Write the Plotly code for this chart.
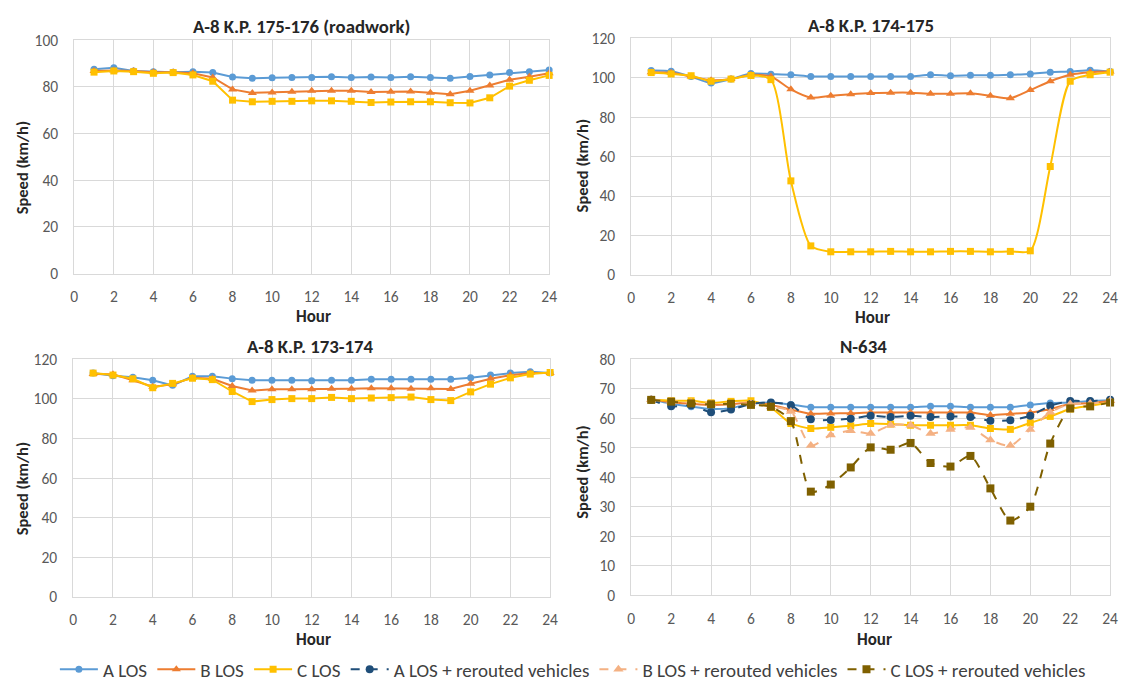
import plotly.graph_objects as go

W, H = 1128, 693

hours = list(range(1, 25))

# Panel 1: A-8 K.P. 175-176 (roadwork)
p1_a = [87.5, 88.2, 86.8, 86.5, 86.3, 86.5, 86.1, 84.2, 83.7, 83.9, 84.0, 84.0, 84.3, 84.0, 84.2, 84.0, 84.3, 84.0, 83.7, 84.4, 85.1, 86.1, 86.5, 87.2]
p1_b = [86.8, 87.0, 86.8, 86.3, 86.3, 85.8, 84.0, 78.9, 77.4, 77.6, 77.9, 78.3, 78.3, 78.3, 77.8, 77.9, 78.0, 77.5, 76.8, 78.3, 80.6, 83.0, 84.3, 85.8]
p1_c = [86.3, 86.8, 86.5, 85.8, 86.1, 85.1, 82.4, 74.3, 73.6, 73.8, 73.8, 74.0, 74.0, 73.8, 73.3, 73.5, 73.6, 73.6, 73.2, 73.1, 75.3, 80.3, 82.8, 84.9]

# Panel 2: A-8 K.P. 174-175
p2_a = [103.7, 103.4, 100.7, 97.4, 99.4, 102.2, 101.9, 101.6, 100.7, 100.7, 100.7, 100.7, 100.7, 100.7, 101.6, 101.1, 101.3, 101.3, 101.6, 102.0, 102.9, 103.2, 103.9, 103.2]
p2_b = [102.9, 102.6, 100.7, 98.8, 99.4, 101.6, 100.7, 94.2, 90.0, 90.9, 91.7, 92.3, 92.5, 92.5, 92.0, 92.0, 92.2, 90.9, 89.7, 93.8, 98.3, 101.6, 102.9, 103.2]
p2_c = [102.7, 102.0, 101.1, 98.3, 99.4, 101.2, 99.1, 47.7, 14.7, 11.7, 11.7, 11.7, 11.9, 11.7, 11.7, 11.9, 11.9, 11.7, 11.9, 12.2, 55.0, 98.3, 101.6, 102.9]

# Panel 3: A-8 K.P. 173-174
p3_a = [113.1, 111.8, 111.0, 109.5, 106.9, 111.5, 111.5, 110.3, 109.5, 109.5, 109.5, 109.2, 109.5, 109.5, 110.0, 110.0, 110.0, 110.0, 110.0, 110.8, 112.1, 113.1, 113.8, 113.1]
p3_b = [112.6, 112.5, 109.5, 106.2, 107.4, 110.8, 110.2, 106.6, 104.3, 104.9, 104.9, 104.9, 105.2, 105.2, 105.4, 105.4, 105.2, 105.4, 105.1, 107.7, 110.2, 112.0, 113.1, 113.1]
p3_c = [113.1, 112.1, 110.2, 105.7, 107.9, 110.5, 109.8, 103.8, 98.7, 99.7, 100.2, 100.2, 100.8, 100.2, 100.5, 100.7, 101.0, 99.7, 99.2, 103.6, 107.5, 110.7, 112.6, 113.4]

# Panel 4: N-634
p4_a = [66.5, 65.0, 64.0, 63.2, 63.5, 65.0, 65.4, 64.7, 63.8, 63.8, 63.8, 63.8, 63.8, 63.8, 64.1, 64.1, 63.8, 63.8, 63.8, 64.6, 65.2, 65.4, 65.9, 66.2]
p4_b = [66.5, 65.5, 65.0, 64.6, 64.8, 65.5, 64.6, 63.0, 61.6, 61.7, 61.8, 62.0, 62.0, 62.0, 62.0, 62.0, 62.0, 61.2, 61.6, 62.0, 63.2, 64.9, 65.2, 66.0]
p4_c = [66.3, 66.0, 66.0, 65.3, 65.8, 66.0, 63.7, 58.3, 56.6, 57.0, 57.5, 58.3, 58.1, 57.7, 57.7, 57.7, 57.7, 56.6, 56.3, 58.5, 60.7, 63.2, 64.3, 65.4]
p4_ar = [66.3, 64.1, 64.5, 62.1, 63.0, 64.9, 65.4, 64.5, 59.7, 59.5, 59.9, 60.9, 60.5, 60.9, 60.5, 60.7, 60.5, 59.2, 59.4, 60.9, 64.3, 65.9, 65.9, 66.3]
p4_br = [66.3, 65.8, 65.5, 65.0, 65.0, 65.0, 64.0, 62.4, 50.8, 54.4, 55.8, 54.9, 57.7, 57.7, 54.9, 56.3, 56.9, 52.7, 50.8, 56.3, 62.1, 64.9, 65.1, 66.0]
p4_cr = [66.3, 65.7, 65.1, 64.8, 65.0, 64.6, 64.0, 59.1, 35.2, 37.6, 43.4, 50.2, 49.4, 51.7, 44.9, 43.7, 47.3, 36.3, 25.4, 30.1, 51.5, 63.4, 64.1, 65.4]

titles = ["A-8 K.P. 175-176 (roadwork)", "A-8 K.P. 174-175", "A-8 K.P. 173-174", "N-634"]
series_names = ["A LOS", "B LOS", "C LOS", "A LOS + rerouted vehicles", "B LOS + rerouted vehicles", "C LOS + rerouted vehicles"]

FONT = "Calibri, Carlito, Lato, sans-serif"
C_A, C_B, C_C = "#5B9BD5", "#ED7D31", "#FFC000"
C_AR, C_BR, C_CR = "#1F4E79", "#F4B183", "#7F6000"

styles = {
    "A LOS": dict(color=C_A, symbol="circle", dash="solid", size=7),
    "B LOS": dict(color=C_B, symbol="triangle-up", dash="solid", size=8),
    "C LOS": dict(color=C_C, symbol="square", dash="solid", size=7),
    "A LOS + rerouted vehicles": dict(color=C_AR, symbol="circle", dash="dash", size=8),
    "B LOS + rerouted vehicles": dict(color=C_BR, symbol="triangle-up", dash="dash", size=9),
    "C LOS + rerouted vehicles": dict(color=C_CR, symbol="square", dash="dash", size=8),
}


def fx(X):
    return X / W


def fy(Y):
    return 1 - Y / H


panels = [
    dict(series=[p1_a, p1_b, p1_c], names=series_names[:3], shape="linear", ymax=100, dtick=20,
         px=(71, 551), py=(31, 271)),
    dict(series=[p2_a, p2_b, p2_c], names=series_names[:3], shape="spline", ymax=120, dtick=20,
         px=(634, 1118), py=(29.3, 272.3)),
    dict(series=[p3_a, p3_b, p3_c], names=series_names[:3], shape="linear", ymax=120, dtick=20,
         px=(70, 552), py=(359.3, 603.3)),
    dict(series=[p4_a, p4_b, p4_c, p4_ar, p4_br, p4_cr], names=series_names, shape="spline", ymax=80, dtick=10,
         px=(634, 1118), py=(359.3, 602)),
]

fig = go.Figure()
seen = set()
layout_axes = {}
for i, p in enumerate(panels):
    k = "" if i == 0 else str(i + 1)
    xa, ya = "x" + k, "y" + k
    for vals, name in zip(p["series"], p["names"]):
        st = styles[name]
        show = name not in seen
        seen.add(name)
        fig.add_trace(go.Scatter(
            x=hours, y=vals, name=name, mode="lines+markers",
            xaxis=xa, yaxis=ya, showlegend=show, legendgroup=name,
            line=dict(color=st["color"], width=2, dash=st["dash"], shape=p["shape"], smoothing=0.7),
            marker=dict(color=st["color"], symbol=st["symbol"], size=st["size"]),
            cliponaxis=False,
        ))
    axis_common = dict(showgrid=True, gridcolor="#D9D9D9", gridwidth=1,
                       showline=True, linecolor="#D9D9D9", linewidth=1, mirror=True,
                       zeroline=False, ticks="outside", tickcolor="rgba(0,0,0,0)",
                       tickfont=dict(family=FONT, size=15.5, color="#595959"))
    layout_axes["xaxis" + k] = dict(axis_common, range=[0, 24], dtick=2, tick0=0, ticklen=9,
                                    domain=[fx(p["px"][0]), fx(p["px"][1])],
                                    anchor=ya)
    layout_axes["yaxis" + k] = dict(axis_common, range=[0, p["ymax"]], dtick=p["dtick"], ticklen=12,
                                    domain=[fy(p["py"][1]), fy(p["py"][0])],
                                    anchor=xa)

fig.update_layout(**layout_axes)

ann = []
title_pos = [(301, 17), (876, 16), (309, 346), (869, 346)]
for t, (tx, ty) in zip(titles, title_pos):
    ann.append(dict(text="<b>%s</b>" % t, x=fx(tx), y=fy(ty), xref="paper", yref="paper",
                    xanchor="center", yanchor="middle", showarrow=False,
                    font=dict(family=FONT, size=18.8, color="#262626")))
for (hx, hy) in [(313, 315), (878, 316), (313, 647), (880, 647)]:
    ann.append(dict(text="<b>Hour</b>", x=fx(hx), y=fy(hy), xref="paper", yref="paper",
                    xanchor="center", yanchor="middle", showarrow=False,
                    font=dict(family=FONT, size=17, color="#262626")))
for (sx, sy) in [(18, 162), (584, 160), (18, 492), (584, 475)]:
    ann.append(dict(text="<b>Speed (km/h)</b>", x=fx(sx), y=fy(sy), xref="paper", yref="paper",
                    xanchor="center", yanchor="middle", textangle=-90, showarrow=False,
                    font=dict(family=FONT, size=16.5, color="#262626")))

fig.update_layout(
    width=W, height=H,
    margin=dict(l=0, r=0, t=0, b=0),
    paper_bgcolor="white", plot_bgcolor="white",
    annotations=ann,
    showlegend=True,
    legend=dict(orientation="h", x=fx(575), y=fy(678), xanchor="center", yanchor="middle",
                font=dict(family=FONT, size=19, color="#404040"), itemwidth=38, tracegroupgap=0,
                bgcolor="rgba(0,0,0,0)"),
)

fig.write_html("out.html")
